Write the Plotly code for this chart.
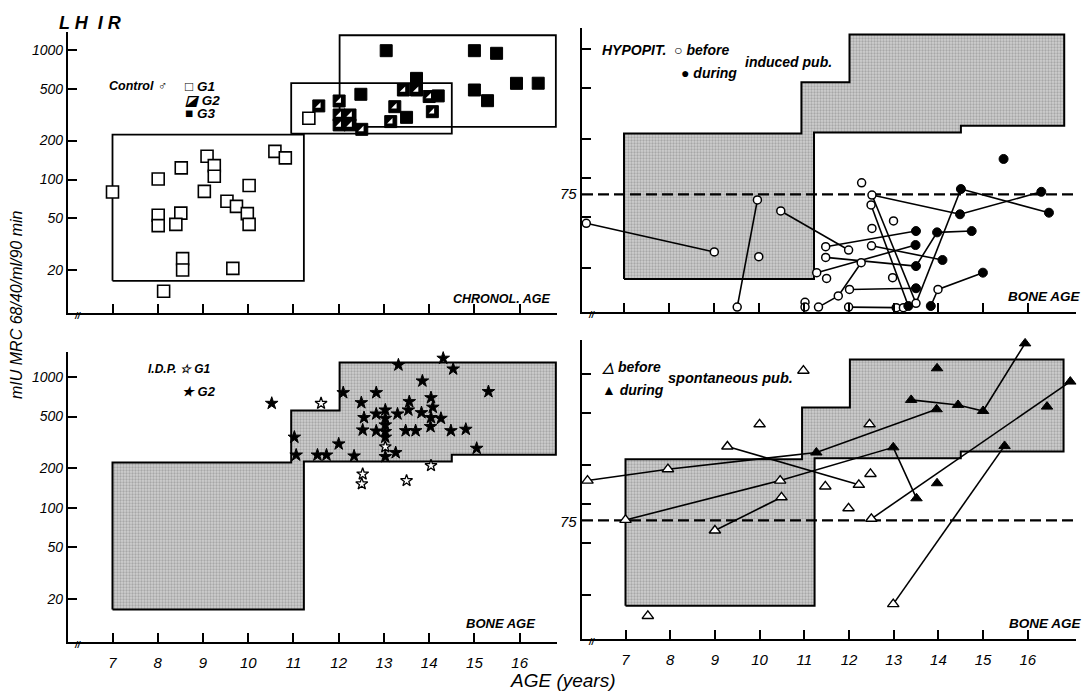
import plotly.graph_objects as go

W, H = 1087, 691
FONT = "Liberation Sans"

# ---------------- data ----------------
x_ticks = [7, 8, 9, 10, 11, 12, 13, 14, 15, 16]
y_ticks = [20, 50, 100, 200, 500, 1000]
y_tick_text = ["20", "50", "100", "200", "500", "1000"]
limit_lh = 75

# reference ranges (three age groups)
ref_age_lo = [7.0, 10.95, 12.02]
ref_age_hi = [11.23, 14.5, 16.8]
ref_lh_lo = [16.5, 226, 255]
ref_lh_hi = [222, 555, 1300]

# Controls (chronological age)
g1_age = [7.0, 8.01, 8.01, 8.01, 8.13, 8.52, 8.51, 8.40, 8.55, 8.55, 9.09, 9.25, 9.25, 9.03,
          9.53, 9.74, 9.98, 10.02, 10.02, 9.66, 10.59, 10.82, 11.34]
g1_lh = [80, 101, 53, 44, 13.7, 123, 55, 45, 24.5, 20, 151, 128, 106, 81,
         68, 62, 54.5, 45, 90, 20.6, 165, 147, 297]
g2_age = [11.56, 12.01, 12.01, 12.25, 12.01, 12.25, 12.51, 13.15, 13.24, 13.43, 13.72, 14.0, 14.07]
g2_lh = [370, 404, 315, 315, 264, 264, 244, 280, 365, 491, 491, 437, 334]
g3_age = [13.05, 12.49, 13.72, 14.2, 13.5, 15.0, 15.49, 15.0, 15.29, 15.93, 16.41]
g3_lh = [988, 455, 604, 442, 302, 988, 943, 491, 406, 553, 554]

# Hypopituitarism, before / during induced puberty (bone age)
hyp_b_age = [6.16, 9.01, 9.52, 9.97, 10.0, 10.49, 12.0, 12.29, 12.52, 12.5, 13.0, 12.52, 12.51,
             11.49, 11.49, 12.28, 11.29, 11.51, 12.98, 12.02, 11.77, 13.99, 11.03, 11.03, 11.33,
             12.0, 13.06, 13.22, 13.5]
hyp_b_lh = [44.7, 26.8, 10.0, 67.8, 24.6, 55.7, 27.7, 92, 74, 62, 46.6, 40.8, 29.9,
            29.4, 24.3, 22.1, 18.5, 16.7, 16.9, 13.7, 12.2, 13.7, 10.9, 10.0, 10.0,
            10.0, 9.9, 9.9, 10.7]
hyp_d_age = [14.5, 14.48, 13.5, 13.97, 14.74, 13.49, 14.09, 13.5, 14.99, 13.5, 13.33, 13.83,
             15.45, 16.29, 16.46]
hyp_d_lh = [82.4, 52.5, 38.9, 38.0, 38.9, 30.3, 23.2, 20.8, 18.5, 14.0, 10.2, 10.2,
            141, 78.4, 54]
hyp_links = [["b0", "b1"], ["b2", "b3"], ["b5", "b6"], ["b8", "d1"], ["d0", "d14"],
             ["d1", "d13"], ["b9", "d10"], ["b8", "b28"], ["b28", "d0"], ["b13", "d2"],
             ["b12", "d6"], ["b14", "d7"], ["b16", "d5"], ["b15", "b20", "b24"],
             ["b19", "d9"], ["b25", "b26"], ["d7", "d3", "d4"], ["d11", "b21", "d8"]]

# I.D.P. (bone age)
idp_g1_age = [11.61, 13.03, 12.53, 12.51, 13.5, 14.04]
idp_g1_lh = [631, 293, 181, 152, 161, 210]
idp_g2_age = [10.52, 13.32, 14.31, 14.53, 13.85, 15.31, 12.83, 12.10, 12.5, 13.56, 14.04, 13.03,
              13.54, 14.08, 13.30, 13.83, 12.83, 12.56, 13.03, 14.04, 14.26, 13.03, 12.53, 12.83,
              13.03, 13.48, 13.70, 14.03, 14.48, 14.81, 13.03, 11.02, 12.0, 15.05, 11.06, 11.53,
              11.73, 12.34, 13.26, 13.03]
idp_g2_lh = [631, 1243, 1400, 1158, 937, 776, 762, 762, 638, 650, 697, 561,
             561, 589, 523, 535, 523, 490, 484, 490, 484, 431, 394, 387,
             383, 389, 389, 418, 389, 399, 347, 347, 308, 285, 253, 253,
             253, 249, 264, 246]

# Spontaneous puberty, before / during (bone age)
spo_b_age = [6.15, 7.95, 7.0, 10.46, 9.0, 10.49, 9.28, 12.22, 12.5, 12.99, 7.5, 10.0, 10.98,
             11.47, 11.99, 12.46, 12.48]
spo_b_lh = [152, 186, 75.7, 152, 62.8, 113, 278, 141, 77.2, 17.0, 13.8, 412, 1066,
            137, 93, 412, 171]
spo_d_age = [11.27, 13.96, 12.99, 13.51, 16.95, 15.48, 13.39, 14.44, 15.0, 15.94, 13.97, 13.97, 16.43]
spo_d_lh = [250, 538, 274, 111, 879, 281, 635, 581, 522, 1730, 1112, 145, 564]
spo_links = [["b0", "b1", "d0", "d1"], ["b2", "b3", "d2", "d3"], ["b4", "b5"], ["b6", "b7"],
             ["b8", "d4"], ["b9", "d5"], ["d6", "d7", "d8", "d9"]]

# ---------------- layout geometry (pixels) ----------------
panels = {
    "TL": dict(px=(68, 557), py=(32, 313), x7=112.5, ppy=45.24, y1000=50.0, ppd=129.5),
    "TR": dict(px=(582, 1076), py=(28, 312), x7=624.0, ppy=44.92, y1000=49.3, ppd=128.9),
    "BL": dict(px=(68, 557), py=(352, 642), x7=112.5, ppy=45.24, y1000=377.3, ppd=130.3),
    "BR": dict(px=(582, 1076), py=(340, 639), x7=625.5, ppy=44.7, y1000=374.3, ppd=129.9),
}
axis_ids = {"TL": ("x", "y", ""), "TR": ("x2", "y2", "2"), "BL": ("x3", "y3", "3"), "BR": ("x4", "y4", "4")}

fig = go.Figure()


def xr(p):
    return [7 + (p["px"][0] - p["x7"]) / p["ppy"], 7 + (p["px"][1] - p["x7"]) / p["ppy"]]


def yr(p):
    return [3 - (p["py"][1] - p["y1000"]) / p["ppd"], 3 - (p["py"][0] - p["y1000"]) / p["ppd"]]


layout_axes = {}
for key, p in panels.items():
    xa, ya, n = axis_ids[key]
    bottom = key in ("BL", "BR")
    left = key in ("TL", "BL")
    layout_axes["xaxis" + n] = dict(
        domain=[p["px"][0] / W, p["px"][1] / W], range=xr(p), anchor=ya,
        showline=True, linecolor="black", linewidth=2.2, ticks="inside", ticklen=9,
        tickwidth=1.5, tickcolor="black", tickvals=x_ticks, ticktext=[str(v) for v in x_ticks],
        showticklabels=bottom, showgrid=False, zeroline=False,
        tickfont=dict(family=FONT, size=15, color="black", style="italic"), ticklabelstandoff=6)
    layout_axes["yaxis" + n] = dict(
        domain=[1 - p["py"][1] / H, 1 - p["py"][0] / H], range=yr(p), type="log", anchor=xa,
        showline=True, linecolor="black", linewidth=2.2, ticks="inside", ticklen=9,
        tickwidth=1.5, tickcolor="black", tickvals=y_ticks, ticktext=y_tick_text,
        showticklabels=left, showgrid=False, zeroline=False,
        tickfont=dict(family=FONT, size=14, color="black", style="italic"))


def poly_union():
    xs = [ref_age_lo[0], ref_age_lo[0], ref_age_lo[1], ref_age_lo[1], ref_age_lo[2], ref_age_lo[2],
          ref_age_hi[2], ref_age_hi[2], ref_age_hi[1], ref_age_hi[1], ref_age_hi[0], ref_age_hi[0],
          ref_age_lo[0]]
    ys = [ref_lh_lo[0], ref_lh_hi[0], ref_lh_hi[0], ref_lh_hi[1], ref_lh_hi[1], ref_lh_hi[2],
          ref_lh_hi[2], ref_lh_lo[2], ref_lh_lo[2], ref_lh_lo[1], ref_lh_lo[1], ref_lh_lo[0],
          ref_lh_lo[0]]
    return xs, ys


FILL_PAT = dict(shape=".", fgcolor="#808080", bgcolor="#cfcfcf", size=3, solidity=0.45)

# --- shaded reference areas (TR, BL, BR) ---
for key in ("TR", "BL", "BR"):
    xa, ya, _ = axis_ids[key]
    px_, py_ = poly_union()
    fig.add_trace(go.Scatter(x=px_, y=py_, xaxis=xa, yaxis=ya, mode="lines", fill="toself",
                             fillcolor="#c8c8c8", fillpattern=FILL_PAT,
                             line=dict(color="black", width=2), hoverinfo="skip"))

# --- open boxes in TL ---
for i in range(3):
    fig.add_trace(go.Scatter(
        x=[ref_age_lo[i], ref_age_hi[i], ref_age_hi[i], ref_age_lo[i], ref_age_lo[i]],
        y=[ref_lh_lo[i], ref_lh_lo[i], ref_lh_hi[i], ref_lh_hi[i], ref_lh_lo[i]],
        xaxis="x", yaxis="y", mode="lines", line=dict(color="black", width=1.8), hoverinfo="skip"))

# --- dashed 75 line in right panels ---
for key in ("TR", "BR"):
    xa, ya, _ = axis_ids[key]
    r = xr(panels[key])
    fig.add_trace(go.Scatter(x=r, y=[limit_lh, limit_lh], xaxis=xa, yaxis=ya, mode="lines",
                             line=dict(color="black", width=2.2, dash="11px,5px"), hoverinfo="skip"))


def link_trace(links, b_age, b_lh, d_age, d_lh, xa, ya):
    pts = {}
    for i, (a, v) in enumerate(zip(b_age, b_lh)):
        pts["b%d" % i] = (a, v)
    for i, (a, v) in enumerate(zip(d_age, d_lh)):
        pts["d%d" % i] = (a, v)
    xs, ys = [], []
    for chain in links:
        for k in chain:
            xs.append(pts[k][0])
            ys.append(pts[k][1])
        xs.append(None)
        ys.append(None)
    return go.Scatter(x=xs, y=ys, xaxis=xa, yaxis=ya, mode="lines",
                      line=dict(color="black", width=1.6), hoverinfo="skip")


# --- TL controls ---
fig.add_trace(go.Scatter(x=g1_age, y=g1_lh, xaxis="x", yaxis="y", mode="markers", cliponaxis=False,
                         marker=dict(symbol="square", size=12, color="white",
                                     line=dict(color="black", width=1.6))))
fig.add_trace(go.Scatter(x=g2_age, y=g2_lh, xaxis="x", yaxis="y", mode="markers", cliponaxis=False,
                         marker=dict(symbol="square", size=12, color="black",
                                     line=dict(color="black", width=1))))
fig.add_trace(go.Scatter(x=g2_age, y=g2_lh, xaxis="x", yaxis="y", mode="markers", cliponaxis=False,
                         marker=dict(symbol="triangle-se", size=6, color="white",
                                     line=dict(width=0))))
fig.add_trace(go.Scatter(x=g3_age, y=g3_lh, xaxis="x", yaxis="y", mode="markers", cliponaxis=False,
                         marker=dict(symbol="square", size=12, color="black",
                                     line=dict(color="black", width=1))))

# --- TR hypopituitary ---
fig.add_trace(link_trace(hyp_links, hyp_b_age, hyp_b_lh, hyp_d_age, hyp_d_lh, "x2", "y2"))
fig.add_trace(go.Scatter(x=hyp_b_age, y=hyp_b_lh, xaxis="x2", yaxis="y2", mode="markers",
                         cliponaxis=False,
                         marker=dict(symbol="circle", size=8, color="white",
                                     line=dict(color="black", width=1.5))))
fig.add_trace(go.Scatter(x=hyp_d_age, y=hyp_d_lh, xaxis="x2", yaxis="y2", mode="markers",
                         cliponaxis=False,
                         marker=dict(symbol="circle", size=9, color="black",
                                     line=dict(color="black", width=1))))

# --- BL I.D.P. ---
fig.add_trace(go.Scatter(x=idp_g2_age, y=idp_g2_lh, xaxis="x3", yaxis="y3", mode="markers",
                         cliponaxis=False,
                         marker=dict(symbol="star", size=9.5, color="black",
                                     line=dict(color="black", width=1))))
fig.add_trace(go.Scatter(x=idp_g1_age, y=idp_g1_lh, xaxis="x3", yaxis="y3", mode="markers",
                         cliponaxis=False,
                         marker=dict(symbol="star", size=9, color="white",
                                     line=dict(color="black", width=1.3))))

# --- BR spontaneous ---
fig.add_trace(link_trace(spo_links, spo_b_age, spo_b_lh, spo_d_age, spo_d_lh, "x4", "y4"))
fig.add_trace(go.Scatter(x=spo_b_age, y=spo_b_lh, xaxis="x4", yaxis="y4", mode="markers",
                         cliponaxis=False,
                         marker=dict(symbol="triangle-up", size=10, color="white",
                                     line=dict(color="black", width=1.4))))
fig.add_trace(go.Scatter(x=spo_d_age, y=spo_d_lh, xaxis="x4", yaxis="y4", mode="markers",
                         cliponaxis=False,
                         marker=dict(symbol="triangle-up", size=10, color="black",
                                     line=dict(color="black", width=1))))


# ---------------- text ----------------
def ann(text, px, py, size=12, xa="left", ya="middle", angle=0, bold=True):
    return dict(text=text, x=px / W, y=1 - py / H, xref="paper", yref="paper",
                xanchor=xa, yanchor=ya, showarrow=False, textangle=angle,
                font=dict(family=FONT, size=size, color="black", style="italic",
                          weight="bold" if bold else "normal"))


anns = [
    ann("L H  I R", 57, 23, 18),
    ann("Control ♂", 168, 86, 12.5, xa="right"),
    ann("□ G1", 183, 86, 13.5),
    ann("◪ G2", 183, 100, 13.5),
    ann("■ G3", 183, 113, 13.5),
    ann("CHRONOL. AGE", 552, 299, 12.5, xa="right"),
    ann("HYPOPIT.  ○ before", 600, 50, 14),
    ann("induced pub.", 743, 62, 14),
    ann("● during", 679, 73, 14),
    ann("BONE AGE", 1083, 296, 13.5, xa="right"),
    ann("75", 579, 194, 15, xa="right", bold=False),
    ann("I.D.P. ☆ G1", 146, 369, 12),
    ann("★ G2", 180, 391, 13),
    ann("BONE AGE", 537, 623, 13, xa="right"),
    ann("△ before", 600, 367, 14),
    ann("spontaneous pub.", 666, 378, 14.5),
    ann("▲ during", 600, 390, 14),
    ann("BONE AGE", 1084, 623, 13.5, xa="right"),
    ann("75", 579, 521, 15, xa="right", bold=False),
    ann("mIU MRC 68/40/ml/90 min", 16, 305, 16, xa="center", angle=-90, bold=False),
    ann("AGE (years)", 563, 680, 19, xa="center", bold=False),
    ann("//", 72, 316, 9),
    ann("//", 586, 315, 9),
    ann("//", 72, 645, 9),
    ann("//", 586, 642, 9),
]

fig.update_layout(
    width=W, height=H, margin=dict(l=0, r=0, t=0, b=0),
    paper_bgcolor="white", plot_bgcolor="rgba(0,0,0,0)", showlegend=False,
    annotations=anns, **layout_axes)

fig.write_html("out.html")
